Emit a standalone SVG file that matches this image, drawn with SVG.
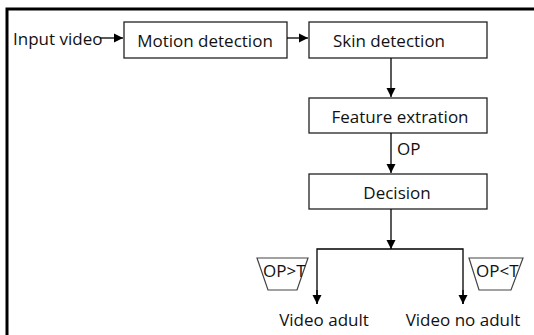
<svg xmlns="http://www.w3.org/2000/svg" width="534" height="335" viewBox="0 0 534 335">
<style>
.box{fill:#fff;stroke:#222;stroke-width:1.3}
.trap{fill:#fff;stroke:#444;stroke-width:1.2}
.t{font-family:"Open Sans","Liberation Sans",sans-serif;font-size:17px;fill:#111}
.c{stroke:#000;stroke-width:1.3;fill:none}
</style>
<defs>
<marker id="ah" markerWidth="10" markerHeight="10" refX="9" refY="5" orient="auto" markerUnits="userSpaceOnUse">
<path d="M0,0.5 L9,5 L0,9.5 Z" fill="#000"/>
</marker>
</defs>
<rect x="0" y="0" width="534" height="335" fill="#fff"/>
<rect x="7" y="9" width="540" height="340" fill="none" stroke="#000" stroke-width="3"/>
<text class="t" x="13" y="45">Input video</text>
<g id="motion"><rect class="box" x="124" y="22" width="163" height="36"/><text class="t" x="205" y="47" text-anchor="middle">Motion detection</text></g>
<g id="skin"><rect class="box" x="309" y="22" width="178" height="36"/><text class="t" x="389" y="47" text-anchor="middle">Skin detection</text></g>
<g id="feature"><rect class="box" x="309" y="98" width="178" height="35"/><text class="t" x="400" y="123" text-anchor="middle">Feature extration</text></g>
<g id="decision"><rect class="box" x="309" y="174" width="178" height="35"/><text class="t" x="397" y="199" text-anchor="middle">Decision</text></g>
<g id="opgt"><path class="trap" d="M257,258 L308,258 L297,290 L268,290 Z"/><text class="t" x="263" y="277">OP&gt;T</text></g>
<g id="oplt"><path class="trap" d="M469,258 L523,258 L511,290 L479,290 Z"/><text class="t" x="476" y="277">OP&lt;T</text></g>
<g id="adult"><text class="t" x="324" y="326" text-anchor="middle">Video adult</text></g>
<g id="noadult"><text class="t" x="463" y="326" text-anchor="middle">Video no adult</text></g>
<g id="connectors">
<path class="c" d="M100,38 L123,38" marker-end="url(#ah)"/>
<path class="c" d="M287,38 L308,38" marker-end="url(#ah)"/>
<path class="c" d="M391,58 L391,97" marker-end="url(#ah)"/>
<path class="c" d="M391,133 L391,173" marker-end="url(#ah)"/>
<text class="t" x="397" y="155">OP</text>
<path class="c" d="M391,209 L391,249" marker-end="url(#ah)"/>
<path class="c" d="M317,304 L317,249 L463,249 L463,304"/>
<path class="c" d="M317,290 L317,304" marker-end="url(#ah)"/>
<path class="c" d="M463,290 L463,304" marker-end="url(#ah)"/>
</g>
</svg>
